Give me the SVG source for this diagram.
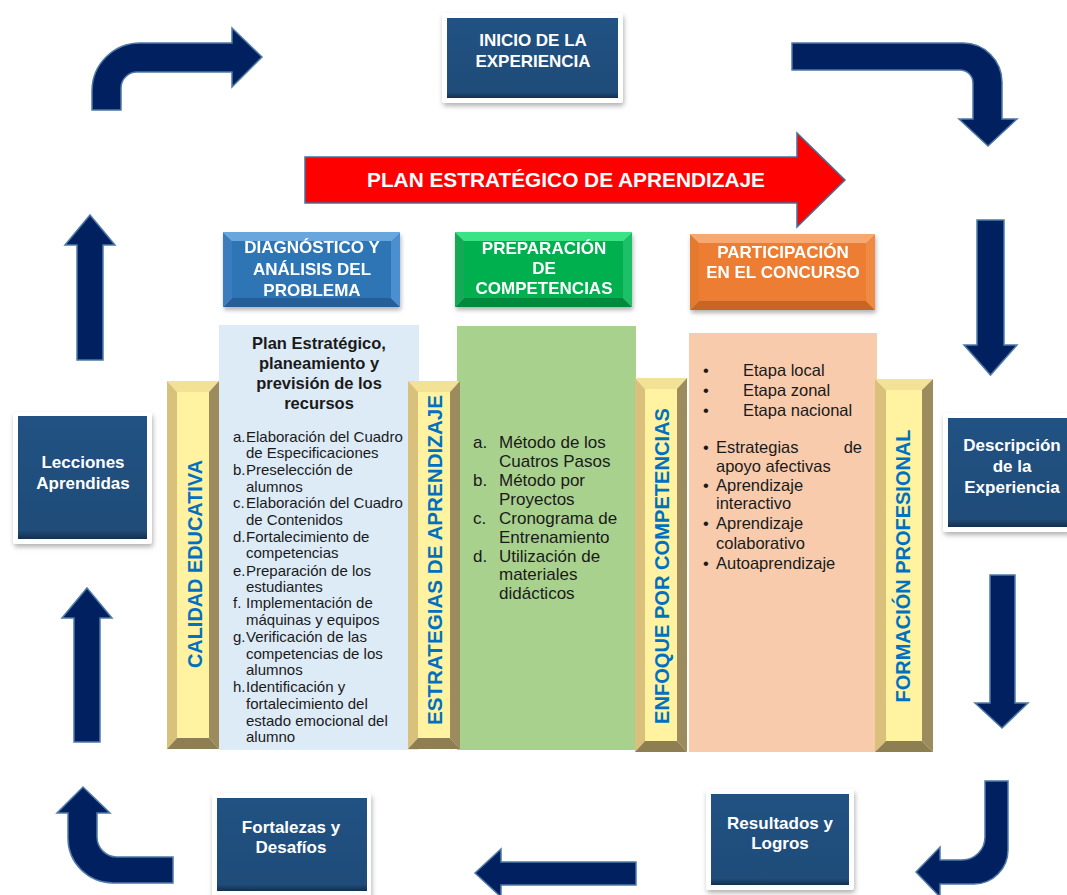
<svg xmlns="http://www.w3.org/2000/svg" width="1067" height="895" viewBox="0 0 1067 895">
<defs>
<style>
text{font-family:"Liberation Sans",Arial,sans-serif}
.nt{fill:#fff;font-weight:bold;font-size:17px;text-anchor:middle}
.ht{fill:#fff;font-weight:bold;font-size:17px;text-anchor:middle}
.pt{fill:#0070C0;font-weight:bold;font-size:20px;text-anchor:middle}
.lt{fill:#1a1a1a;font-size:15px}
.gt{fill:#1a1a1a;font-size:17px}
.ot{fill:#1a1a1a;font-size:16.5px}
.arr{fill:#002060;stroke:#4F7AA6;stroke-width:1.5;stroke-linejoin:miter}
.frame{fill:#fff;filter:url(#sh)}
.inner{fill:url(#navy)}
.ptop{fill:#F3E196}.pleft{fill:#D9C17C}.pright{fill:#9C8B5D}.pbot{fill:#8E7F52}.pface{fill:#FFF2A1}
</style>
<filter id="sh" x="-20%" y="-20%" width="140%" height="140%">
<feDropShadow dx="1" dy="3" stdDeviation="2.5" flood-color="#000" flood-opacity="0.3"/>
</filter>
<filter id="sh2" x="-10%" y="-10%" width="120%" height="130%">
<feDropShadow dx="1" dy="3" stdDeviation="2" flood-color="#000" flood-opacity="0.3"/>
</filter>
<linearGradient id="navy" x1="0" y1="0" x2="0" y2="1">
<stop offset="0" stop-color="#215283"/>
<stop offset="0.93" stop-color="#1F4C79"/>
<stop offset="1" stop-color="#142F4C"/>
</linearGradient>
</defs>
<rect width="1067" height="895" fill="#fff"/>

<g id="connectors">
<path class="arr" d="M92,110 L92,91 A48,48 0 0 1 140,43 L232,43 L232,28 L262,57 L232,87 L232,72 L137,72 A16,16 0 0 0 121,88 L121,110 Z"/>
<path class="arr" d="M792,43 L963,43 A39,39 0 0 1 1002,82 L1002,119 L1017,119 L988,146 L959,119 L973,119 L973,83 A13,13 0 0 0 960,70 L792,70 Z"/>
<path class="arr" d="M977,220 L1004,220 L1004,345 L1017,345 L990.5,375 L964,345 L977,345 Z"/>
<path class="arr" d="M990,575 L1015,575 L1015,703 L1028,703 L1002,728 L975,703 L990,703 Z"/>
<path class="arr" d="M985,781 L1008,781 L1008,850 A34,34 0 0 1 974,884 L940,884 L940,897 L916,872 L940,847 L940,860 L962,860 A23,23 0 0 0 985,837 Z"/>
<path class="arr" d="M636,862 L636,885 L501,885 L501,897 L475,873 L501,849 L501,862 Z"/>
<path class="arr" d="M83,787 L110,813 L97,813 L97,837 A20,20 0 0 0 117,857 L173,857 L173,883 L113,883 A45,45 0 0 1 68,838 L68,813 L57,813 Z"/>
<path class="arr" d="M87,588 L112,618 L100,618 L100,742 L74,742 L74,618 L62,618 Z"/>
<path class="arr" d="M90,215 L115,245 L103,245 L103,360 L77,360 L77,245 L65,245 Z"/>
</g>

<g id="plan-arrow">
<path d="M305,157 L797,157 L797,133 L845,180 L797,227 L797,203 L305,203 Z" fill="#FF0000" stroke="#41719C" stroke-width="1.5"/>
<text x="566" y="187" fill="#fff" font-weight="bold" font-size="19.5" text-anchor="middle" textLength="398" lengthAdjust="spacingAndGlyphs">PLAN ESTRATÉGICO DE APRENDIZAJE</text>
</g>

<g id="inicio">
<rect class="frame" x="442" y="13" width="181" height="90" rx="3"/>
<rect class="inner" x="447" y="18" width="171" height="80"/>
<text class="nt" x="533" y="46">INICIO DE LA</text>
<text class="nt" x="533" y="67">EXPERIENCIA</text>
</g>

<g id="descripcion">
<rect class="frame" x="943" y="413" width="130" height="119" rx="3"/>
<rect class="inner" x="948" y="418" width="125" height="109"/>
<text class="nt" x="1012" y="451">Descripción</text>
<text class="nt" x="1012" y="472">de la</text>
<text class="nt" x="1012" y="493">Experiencia</text>
</g>

<g id="resultados">
<rect class="frame" x="706" y="789" width="148" height="101" rx="3"/>
<rect class="inner" x="711" y="794" width="138" height="91"/>
<text class="nt" x="780" y="829">Resultados y</text>
<text class="nt" x="780" y="849">Logros</text>
</g>

<g id="fortalezas">
<rect class="frame" x="212" y="793" width="159" height="105" rx="3"/>
<rect class="inner" x="217" y="798" width="150" height="93"/>
<text class="nt" x="291" y="833">Fortalezas y</text>
<text class="nt" x="291" y="853">Desafíos</text>
</g>

<g id="lecciones">
<rect class="frame" x="13" y="412" width="139" height="132" rx="3"/>
<rect class="inner" x="18" y="416" width="129" height="123"/>
<text class="nt" x="83" y="468">Lecciones</text>
<text class="nt" x="83" y="489">Aprendidas</text>
</g>

<g id="header-diagnostico" filter="url(#sh2)">
<polygon points="223,232 400,232 391,241 232,241" fill="#6AA6DE"/>
<polygon points="223,232 232,241 232,298 223,307" fill="#3A7CBF"/>
<polygon points="400,232 400,307 391,298 391,241" fill="#4B8FD0"/>
<polygon points="223,307 232,298 391,298 400,307" fill="#255F98"/>
<rect x="232" y="241" width="159" height="57" fill="#2F75B6"/>
<text class="ht" x="312" y="253">DIAGNÓSTICO Y</text>
<text class="ht" x="312" y="275">ANÁLISIS DEL</text>
<text class="ht" x="312" y="296">PROBLEMA</text>
</g>

<g id="header-preparacion" filter="url(#sh2)">
<polygon points="455,232 632,232 623,241 464,241" fill="#3BE385"/>
<polygon points="455,232 464,241 464,298 455,307" fill="#12A955"/>
<polygon points="632,232 632,307 623,298 623,241" fill="#1FC066"/>
<polygon points="455,307 464,298 623,298 632,307" fill="#008A3E"/>
<rect x="464" y="241" width="159" height="57" fill="#00B050"/>
<text class="ht" x="544" y="254">PREPARACIÓN</text>
<text class="ht" x="544" y="274">DE</text>
<text class="ht" x="544" y="294">COMPETENCIAS</text>
</g>

<g id="header-participacion" filter="url(#sh2)">
<polygon points="690,234 875,234 866,243 699,243" fill="#F6A86F"/>
<polygon points="690,234 699,243 699,301 690,310" fill="#E37A2E"/>
<polygon points="875,234 875,310 866,301 866,243" fill="#F08A42"/>
<polygon points="690,310 699,301 866,301 875,310" fill="#C86522"/>
<rect x="699" y="243" width="167" height="58" fill="#ED7D31"/>
<text class="ht" x="783" y="258">PARTICIPACIÓN</text>
<text class="ht" x="783" y="278">EN EL CONCURSO</text>
</g>

<g id="panel-diagnostico">
<rect x="219" y="325" width="200" height="425" fill="#DDEBF7"/>
<g font-weight="bold" font-size="16.5" fill="#1a1a1a" text-anchor="middle">
<text x="319" y="349">Plan Estratégico,</text>
<text x="319" y="369">planeamiento y</text>
<text x="319" y="389">previsión de los</text>
<text x="319" y="409">recursos</text>
</g>
<g class="lt">
<text class="lt" x="233" y="442">a.</text><text class="lt" x="246" y="442">Elaboración del Cuadro</text>
<text class="lt" x="246" y="458">de Especificaciones</text>
<text class="lt" x="233" y="475">b.</text><text class="lt" x="246" y="475">Preselección de</text>
<text class="lt" x="246" y="492">alumnos</text>
<text class="lt" x="233" y="508">c.</text><text class="lt" x="246" y="508">Elaboración del Cuadro</text>
<text class="lt" x="246" y="525">de Contenidos</text>
<text class="lt" x="233" y="542">d.</text><text class="lt" x="246" y="542">Fortalecimiento de</text>
<text class="lt" x="246" y="558">competencias</text>
<text class="lt" x="233" y="576">e.</text><text class="lt" x="246" y="576">Preparación de los</text>
<text class="lt" x="246" y="592">estudiantes</text>
<text class="lt" x="233" y="608">f.</text><text class="lt" x="246" y="608">Implementación de</text>
<text class="lt" x="246" y="625">máquinas y equipos</text>
<text class="lt" x="233" y="642">g.</text><text class="lt" x="246" y="642">Verificación de las</text>
<text class="lt" x="246" y="659">competencias de los</text>
<text class="lt" x="246" y="675">alumnos</text>
<text class="lt" x="233" y="692">h.</text><text class="lt" x="246" y="692">Identificación y</text>
<text class="lt" x="246" y="709">fortalecimiento del</text>
<text class="lt" x="246" y="726">estado emocional del</text>
<text class="lt" x="246" y="742">alumno</text>
</g>
</g>

<g id="panel-preparacion">
<rect x="457" y="326" width="179" height="424" fill="#A9D18E"/>
<text class="gt" x="473" y="448">a.</text><text class="gt" x="499" y="448">Método de los</text>
<text class="gt" x="499" y="467">Cuatros Pasos</text>
<text class="gt" x="473" y="486">b.</text><text class="gt" x="499" y="486">Método por</text>
<text class="gt" x="499" y="505">Proyectos</text>
<text class="gt" x="473" y="524">c.</text><text class="gt" x="499" y="524">Cronograma de</text>
<text class="gt" x="499" y="543">Entrenamiento</text>
<text class="gt" x="473" y="562">d.</text><text class="gt" x="499" y="562">Utilización de</text>
<text class="gt" x="499" y="580">materiales</text>
<text class="gt" x="499" y="599">didácticos</text>
</g>

<g id="panel-participacion">
<rect x="689" y="333" width="188" height="419" fill="#F8CBAD"/>
<text class="ot" x="703" y="376">•</text><text class="ot" x="743" y="376">Etapa local</text>
<text class="ot" x="703" y="396">•</text><text class="ot" x="743" y="396">Etapa zonal</text>
<text class="ot" x="703" y="416">•</text><text class="ot" x="743" y="416">Etapa nacional</text>
<text class="ot" x="703" y="453">•</text><text class="ot" x="716" y="453">Estrategias</text><text class="ot" x="862" y="453" text-anchor="end">de</text>
<text class="ot" x="716" y="472">apoyo afectivas</text>
<text class="ot" x="703" y="491">•</text><text class="ot" x="716" y="491">Aprendizaje</text>
<text class="ot" x="716" y="509">interactivo</text>
<text class="ot" x="703" y="529">•</text><text class="ot" x="716" y="529">Aprendizaje</text>
<text class="ot" x="716" y="549">colaborativo</text>
<text class="ot" x="703" y="569">•</text><text class="ot" x="716" y="569">Autoaprendizaje</text>
</g>

<g id="pillar-calidad">
<polygon class="ptop" points="167,381 219,381 209,392 177,392"/>
<polygon class="pleft" points="167,381 177,392 177,738 167,749"/>
<polygon class="pright" points="219,381 219,749 209,738 209,392"/>
<polygon class="pbot" points="167,749 177,738 209,738 219,749"/>
<rect class="pface" x="177" y="392" width="32" height="346"/>
<text class="pt" transform="translate(195,564) rotate(-90)" x="0" y="7" textLength="208" lengthAdjust="spacingAndGlyphs">CALIDAD EDUCATIVA</text>
</g>

<g id="pillar-estrategias">
<polygon class="ptop" points="408,381 460,381 450,392 418,392"/>
<polygon class="pleft" points="408,381 418,392 418,738 408,749"/>
<polygon class="pright" points="460,381 460,749 450,738 450,392"/>
<polygon class="pbot" points="408,749 418,738 450,738 460,749"/>
<rect class="pface" x="418" y="392" width="32" height="346"/>
<text class="pt" transform="translate(435,560) rotate(-90)" x="0" y="7" textLength="330" lengthAdjust="spacingAndGlyphs">ESTRATEGIAS DE APRENDIZAJE</text>
</g>

<g id="pillar-enfoque">
<polygon class="ptop" points="635,378 687,378 677,389 645,389"/>
<polygon class="pleft" points="635,378 645,389 645,741 635,752"/>
<polygon class="pright" points="687,378 687,752 677,741 677,389"/>
<polygon class="pbot" points="635,752 645,741 677,741 687,752"/>
<rect class="pface" x="645" y="389" width="32" height="352"/>
<text class="pt" transform="translate(662,566) rotate(-90)" x="0" y="7" textLength="316" lengthAdjust="spacingAndGlyphs">ENFOQUE POR COMPETENCIAS</text>
</g>

<g id="pillar-formacion">
<polygon class="ptop" points="875,379 933,379 922,390 886,390"/>
<polygon class="pleft" points="875,379 886,390 886,741 875,752"/>
<polygon class="pright" points="933,379 933,752 922,741 922,390"/>
<polygon class="pbot" points="875,752 886,741 922,741 933,752"/>
<rect class="pface" x="886" y="390" width="36" height="351"/>
<text class="pt" transform="translate(903,566) rotate(-90)" x="0" y="7" textLength="273" lengthAdjust="spacingAndGlyphs">FORMACIÓN PROFESIONAL</text>
</g>
</svg>
